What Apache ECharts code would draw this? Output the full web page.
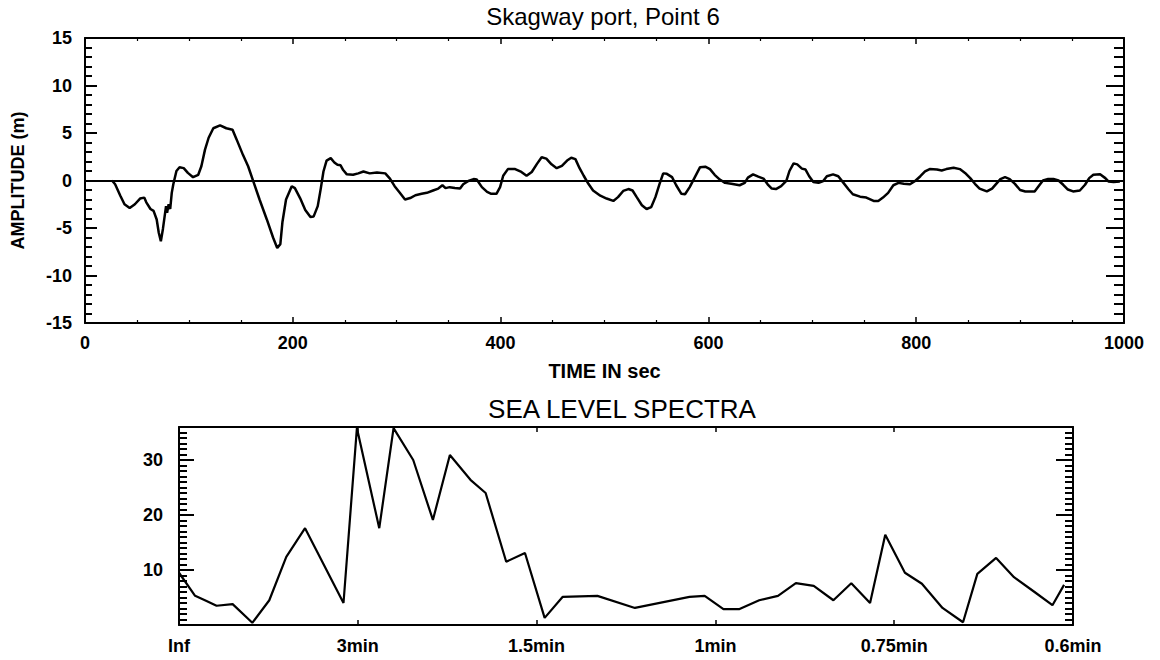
<!DOCTYPE html>
<html>
<head>
<meta charset="utf-8">
<title>Skagway port, Point 6</title>
<script src="https://cdn.jsdelivr.net/npm/echarts@6/dist/echarts.min.js"></script>
<style>
  html, body { margin: 0; padding: 0; background: #fff; }
  #chart { width: 1160px; height: 660px; }
</style>
</head>
<body>
<div id="chart"></div>
<script>
// Sea-level record at Point 6 (time in seconds, amplitude in metres)
const seaLevelTime = [26, 29, 34, 38, 43, 48, 53, 57, 59, 63, 66, 69, 71, 73, 75, 78, 79, 80.5, 82, 83.5, 85, 88, 91, 95, 99, 104, 109, 112, 115.5, 119, 123.5, 130, 136, 142, 146, 152, 157, 162, 168, 175, 181, 185, 188, 190, 193.5, 199, 202, 207, 212, 217, 220, 224, 227, 229.5, 232.5, 236.5, 240, 243, 246, 248.5, 252, 258, 263, 268, 274, 281, 289, 293.5, 298, 303, 308, 313, 318, 324, 329, 335, 340, 344, 347, 351, 356, 361, 364, 369, 374, 377, 382, 387, 391, 396, 399.5, 402.5, 407, 414, 420, 425, 430, 435, 439.5, 444, 449, 454, 459, 464, 468, 472, 476, 480, 484.5, 489, 496, 502, 508.5, 513, 518, 523, 527, 531, 536, 540.5, 545, 549, 553, 556.5, 560, 565, 569, 574, 577.5, 582, 587, 592, 597, 601.5, 606, 611, 616, 622, 630, 635, 638, 643, 648, 653, 657, 661, 665, 670, 675, 678, 682, 685.5, 690, 693.5, 697, 701, 706, 710.5, 714, 720, 725, 730, 735, 739, 746, 752, 759, 763.5, 768, 773, 778, 783, 788, 794, 799, 804, 808.5, 813, 820, 824.5, 829, 836, 842, 847, 852, 856.5, 861, 868, 873, 877, 881, 885.5, 890, 895, 900, 905, 914, 918.5, 922, 927, 932, 937, 941.5, 946, 951, 957.5, 962.5, 966.5, 970.5, 977, 982, 985, 990, 996];
const seaLevelAmp = [0, -0.4, -1.6, -2.5, -2.9, -2.5, -1.9, -1.8, -2.3, -3.0, -3.2, -4.1, -5.5, -6.4, -5.1, -2.7, -3.4, -2.5, -3.0, -1.3, -0.4, 1.0, 1.4, 1.3, 0.8, 0.35, 0.6, 1.5, 3.25, 4.5, 5.5, 5.8, 5.5, 5.35, 4.3, 2.7, 1.5, -0.1, -2.0, -4.1, -6.0, -7.1, -6.7, -4.4, -2.0, -0.6, -0.8, -1.85, -3.1, -3.85, -3.8, -2.7, -0.8, 0.95, 2.1, 2.35, 1.9, 1.65, 1.6, 1.1, 0.65, 0.6, 0.75, 0.95, 0.75, 0.85, 0.75, 0.2, -0.6, -1.3, -2.0, -1.85, -1.55, -1.4, -1.3, -1.05, -0.85, -0.5, -0.8, -0.7, -0.8, -0.85, -0.4, -0.05, 0.15, 0.1, -0.7, -1.2, -1.4, -1.4, -0.7, 0.5, 1.2, 1.2, 0.9, 0.5, 0.9, 1.75, 2.45, 2.3, 1.7, 1.3, 1.55, 2.1, 2.4, 2.25, 1.3, 0.5, -0.35, -1.05, -1.6, -1.9, -2.15, -1.75, -1.1, -0.9, -1.05, -1.75, -2.6, -3.0, -2.8, -1.75, -0.35, 0.75, 0.7, 0.35, -0.5, -1.4, -1.45, -0.7, 0.35, 1.4, 1.45, 1.2, 0.6, 0.1, -0.25, -0.35, -0.5, -0.25, 0.3, 0.65, 0.4, 0.2, -0.4, -0.85, -0.9, -0.6, -0.05, 1.0, 1.8, 1.7, 1.25, 1.15, 0.45, -0.15, -0.25, -0.05, 0.45, 0.65, 0.45, -0.25, -0.95, -1.45, -1.7, -1.8, -2.15, -2.15, -1.8, -1.3, -0.5, -0.25, -0.35, -0.4, -0.05, 0.45, 0.95, 1.2, 1.15, 1.05, 1.2, 1.35, 1.2, 0.8, 0.25, -0.35, -0.85, -1.15, -0.85, -0.35, 0.15, 0.35, 0.15, -0.35, -1.0, -1.15, -1.15, -0.5, 0, 0.15, 0.15, 0, -0.45, -0.95, -1.15, -1.05, -0.45, 0.25, 0.6, 0.65, 0.25, -0.1, -0.15, -0.1];

// Sea level spectrum: frequency in cycles per hour, spectral level
const spectrumFreq = [0, 1.8, 2.9, 4.2, 6.0, 8.2, 10.1, 12.0, 14.1, 18.4, 19.9, 22.4, 24.0, 26.2, 28.4, 30.3, 32.6, 34.3, 36.6, 38.7, 40.9, 42.9, 46.8, 51.0, 57.1, 58.8, 60.9, 62.7, 64.9, 67.0, 69.0, 71.0, 73.2, 75.2, 77.3, 79.0, 81.2, 83.1, 85.4, 87.7, 89.3, 91.4, 93.4, 95.7, 97.7, 99.0];
const spectrumLevel = [9.5, 5.3, 4.5, 3.5, 3.8, 0.4, 4.5, 12.4, 17.6, 4.0, 35.8, 17.6, 35.8, 30.0, 19.1, 30.9, 26.4, 24.0, 11.5, 13.1, 1.3, 5.1, 5.3, 3.1, 5.1, 5.3, 2.9, 2.9, 4.5, 5.3, 7.6, 7.1, 4.5, 7.6, 4.0, 16.4, 9.5, 7.5, 3.1, 0.5, 9.3, 12.2, 8.7, 6.0, 3.6, 7.3];

// Tick labels of the spectrum axis (periods)
const periodTicks = [0, 20, 40, 60, 80, 100];
const periodLabels = ['Inf', '3min', '1.5min', '1min', '0.75min', '0.6min'];
const spectrumLabelTicks = [10, 20, 30];

const FONT = '"Liberation Sans", Arial, Helvetica, sans-serif';
const BLACK = '#000';

const zip = (a, b) => a.map((v, i) => [v, b[i]]);

const labelStyle = { color: BLACK, fontFamily: FONT, fontWeight: 'bold', fontSize: 18 };
const frameLine = { show: true, onZero: false, lineStyle: { color: BLACK, width: 2 } };
const hiddenLine = { show: false, onZero: false };

const chart = echarts.init(document.getElementById('chart'), null, { renderer: 'svg' });

const option = {
  animation: false,
  backgroundColor: '#fff',
  graphic: [
    { type: 'text', x: 603, y: 16, style: { text: 'Skagway port, Point 6', textAlign: 'center', textVerticalAlign: 'middle', font: '24px ' + FONT, fill: BLACK } },
    { type: 'text', x: 622, y: 409, style: { text: 'SEA LEVEL SPECTRA', textAlign: 'center', textVerticalAlign: 'middle', font: '26px ' + FONT, fill: BLACK } }
  ],
  grid: [
    { left: 85, top: 38, right: 36, bottom: 337 },
    { left: 179, top: 427, right: 87, bottom: 35 }
  ],
  xAxis: [
    {
      gridIndex: 0, type: 'value', min: 0, max: 1000, interval: 200, position: 'bottom',
      axisLine: frameLine,
      axisTick: { show: true, inside: true, length: 6, lineStyle: { color: BLACK, width: 1.5 } },
      minorTick: { show: true, splitNumber: 4, length: 3, lineStyle: { color: BLACK, width: 1.2 } },
      splitLine: { show: false },
      axisLabel: Object.assign({ margin: 11, formatter: v => String(v) }, labelStyle),
      name: 'TIME IN sec', nameLocation: 'middle', nameGap: 38,
      nameTextStyle: { color: BLACK, fontFamily: FONT, fontWeight: 'bold', fontSize: 20 }
    },
    {
      gridIndex: 0, type: 'value', min: 0, max: 1000, interval: 200, position: 'top',
      axisLine: frameLine,
      axisTick: { show: true, inside: true, length: 6, lineStyle: { color: BLACK, width: 1.5 } },
      minorTick: { show: true, splitNumber: 4, length: 3, lineStyle: { color: BLACK, width: 1.2 } },
      splitLine: { show: false },
      axisLabel: { show: false }
    },
    {
      gridIndex: 1, type: 'value', min: 0, max: 100, interval: 20, position: 'bottom',
      axisLine: frameLine,
      axisTick: { show: true, inside: true, length: 5, lineStyle: { color: BLACK, width: 1.5 } },
      splitLine: { show: false },
      axisLabel: Object.assign({
        margin: 12,
        formatter: v => { const i = periodTicks.indexOf(v); return i >= 0 ? periodLabels[i] : ''; }
      }, labelStyle)
    },
    {
      gridIndex: 1, type: 'value', min: 0, max: 100, interval: 20, position: 'top',
      axisLine: frameLine,
      axisTick: { show: true, inside: true, length: 5, lineStyle: { color: BLACK, width: 1.5 } },
      splitLine: { show: false },
      axisLabel: { show: false }
    }
  ],
  yAxis: [
    {
      gridIndex: 0, type: 'value', min: -15, max: 15, interval: 5, position: 'left',
      axisLine: frameLine,
      axisTick: { show: true, inside: true, length: 12, lineStyle: { color: BLACK, width: 2 } },
      minorTick: { show: true, splitNumber: 5, length: 7, lineStyle: { color: BLACK, width: 2 } },
      splitLine: { show: false },
      axisLabel: Object.assign({ margin: 13 }, labelStyle),
      name: 'AMPLITUDE (m)', nameLocation: 'middle', nameRotate: 90, nameGap: 58,
      nameTextStyle: { color: BLACK, fontFamily: FONT, fontWeight: 'bold', fontSize: 18, padding: [0, 0, 0, 0] }
    },
    {
      gridIndex: 0, type: 'value', min: -15, max: 15, interval: 5, position: 'right',
      axisLine: frameLine,
      axisTick: { show: true, inside: true, length: 18, lineStyle: { color: BLACK, width: 2 } },
      minorTick: { show: true, splitNumber: 5, length: 10, lineStyle: { color: BLACK, width: 2 } },
      splitLine: { show: false },
      axisLabel: { show: false }
    },
    // spectrum: labelled major ticks every 10
    {
      gridIndex: 1, type: 'value', min: 0, max: 36, interval: 10, position: 'left',
      axisLine: frameLine,
      axisTick: { show: true, inside: true, length: 15, lineStyle: { color: BLACK, width: 2 } },
      splitLine: { show: false },
      axisLabel: Object.assign({
        margin: 16,
        formatter: v => spectrumLabelTicks.indexOf(v) >= 0 ? String(v) : ''
      }, labelStyle)
    },
    // spectrum: unit ticks on the left edge
    {
      gridIndex: 1, type: 'value', min: 0, max: 36, interval: 1, position: 'left',
      axisLine: hiddenLine,
      axisTick: { show: true, inside: true, length: 8, lineStyle: { color: BLACK, width: 2 } },
      splitLine: { show: false },
      axisLabel: { show: false }
    },
    {
      gridIndex: 1, type: 'value', min: 0, max: 36, interval: 10, position: 'right',
      axisLine: frameLine,
      axisTick: { show: true, inside: true, length: 17, lineStyle: { color: BLACK, width: 2 } },
      splitLine: { show: false },
      axisLabel: { show: false }
    },
    // spectrum: unit ticks on the right edge
    {
      gridIndex: 1, type: 'value', min: 0, max: 36, interval: 1, position: 'right',
      axisLine: hiddenLine,
      axisTick: { show: true, inside: true, length: 8, lineStyle: { color: BLACK, width: 2 } },
      splitLine: { show: false },
      axisLabel: { show: false }
    }
  ],
  series: [
    {
      type: 'line', xAxisIndex: 0, yAxisIndex: 0,
      data: zip(seaLevelTime, seaLevelAmp),
      showSymbol: false, symbol: 'none', smooth: false,
      lineStyle: { color: BLACK, width: 2.5 },
      markLine: {
        silent: true, symbol: ['none', 'none'], label: { show: false },
        lineStyle: { color: BLACK, width: 2, type: 'solid' },
        data: [{ yAxis: 0 }]
      }
    },
    {
      type: 'line', xAxisIndex: 2, yAxisIndex: 2,
      data: zip(spectrumFreq, spectrumLevel),
      showSymbol: false, symbol: 'none', smooth: false,
      lineStyle: { color: BLACK, width: 2.2 }
    }
  ]
};

chart.setOption(option);
</script>
</body>
</html>
